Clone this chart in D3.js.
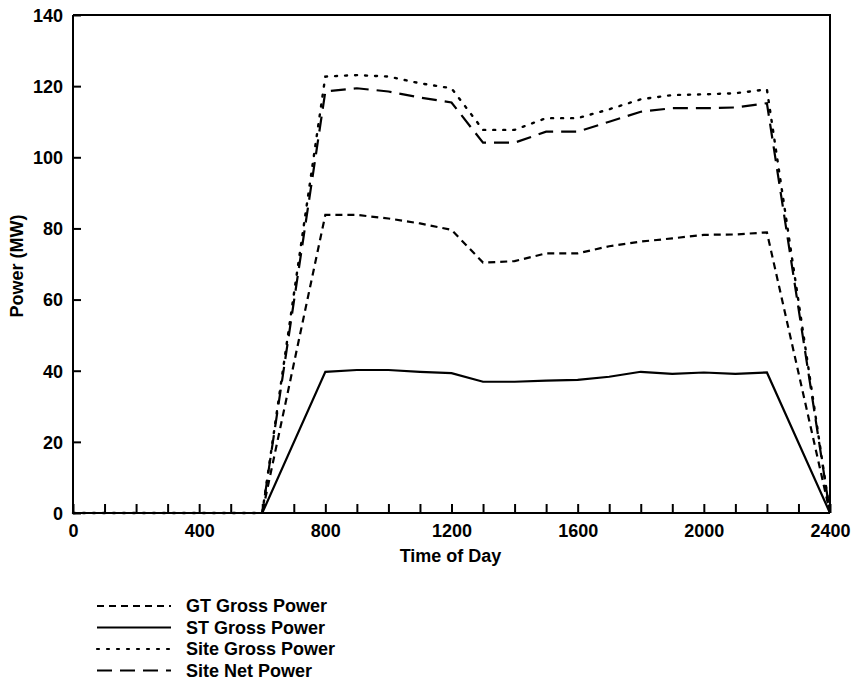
<!DOCTYPE html>
<html>
<head>
<meta charset="utf-8">
<script src="https://cdn.jsdelivr.net/npm/d3@7"></script>
<style>
  body { margin: 0; background: #fff; }
  text { font-family: "Liberation Sans", Arial, sans-serif; font-weight: bold; fill: #000; }
</style>
</head>
<body>
<div id="chart"></div>
<script>
// Time of day (hours x 100)
const times = [0, 100, 200, 300, 400, 500, 600, 800, 900, 1000, 1100, 1200, 1300, 1400, 1500, 1600, 1700, 1800, 1900, 2000, 2100, 2200, 2400];

// Series values (MW)
const gtGross   = [0, 0, 0, 0, 0, 0, 0, 83.8, 83.8, 82.8, 81.4, 79.6, 70.4, 70.8, 73.0, 73.0, 75.0, 76.3, 77.2, 78.2, 78.3, 78.9, 0];
const stGross   = [0, 0, 0, 0, 0, 0, 0, 39.7, 40.2, 40.2, 39.7, 39.3, 36.9, 36.9, 37.2, 37.4, 38.3, 39.7, 39.1, 39.5, 39.1, 39.5, 0];
const siteGross = [0, 0, 0, 0, 0, 0, 0, 122.7, 123.1, 122.7, 120.8, 119.4, 107.7, 107.7, 111.0, 111.0, 113.5, 116.3, 117.5, 117.7, 118.0, 119.1, 0];
const siteNet   = [0, 0, 0, 0, 0, 0, 0, 118.5, 119.4, 118.5, 116.8, 115.4, 104.1, 104.1, 107.2, 107.2, 110.0, 112.8, 113.8, 113.8, 114.0, 115.2, 0];

// Axis ticks
const xTicks = d3.range(0, 2401, 100);
const xLabels = [0, 400, 800, 1200, 1600, 2000, 2400];
const yTicks = [0, 20, 40, 60, 80, 100, 120, 140];

const seriesNames = ["GT Gross Power", "ST Gross Power", "Site Gross Power", "Site Net Power"];
const seriesData = [gtGross, stGross, siteGross, siteNet];
const dashes = ["7,5", null, "2,8", "15,8"];

const w = 854, h = 684;
const pl = 73, pr = 830, pt = 15, pb = 513;

const svg = d3.select("#chart").append("svg")
  .attr("width", w)
  .attr("height", h);

const xScale = d3.scaleLinear().domain([0, 2400]).range([pl, pr]);
const yScale = d3.scaleLinear().domain([0, 140]).range([pb, pt]);

// Axes with inward ticks
const xAxis = d3.axisBottom(xScale)
  .tickValues(xTicks)
  .tickSizeInner(-9)
  .tickSizeOuter(0)
  .tickFormat(d => xLabels.includes(d) ? d : "");

const yAxis = d3.axisLeft(yScale)
  .tickValues(yTicks)
  .tickSizeInner(-8)
  .tickSizeOuter(0);

const gx = svg.append("g")
  .attr("transform", "translate(0," + pb + ")")
  .call(xAxis);
gx.selectAll("text").attr("dy", "1.05em").attr("y", 5).style("font-size", "18px");

const gy = svg.append("g")
  .attr("transform", "translate(" + pl + ",0)")
  .call(yAxis);
gy.selectAll("text").attr("x", -10).attr("dy", "0.35em").style("font-size", "18px");

svg.selectAll(".domain, .tick line").attr("stroke", "#000").attr("stroke-width", 2);
gx.select(".domain").attr("d", "M" + pl + ",0H" + pr);
gy.select(".domain").attr("d", "M0," + pb + "V" + pt);

// Top and right frame
svg.append("path")
  .attr("d", "M" + pl + "," + pt + "H" + pr + "V" + pb)
  .attr("fill", "none")
  .attr("stroke", "#000")
  .attr("stroke-width", 2);

// Axis titles
svg.append("text")
  .attr("x", (pl + pr) / 2 - 1)
  .attr("y", 562)
  .attr("text-anchor", "middle")
  .style("font-size", "18px")
  .text("Time of Day");

svg.append("text")
  .attr("transform", "translate(23," + ((pt + pb) / 2 + 2) + ") rotate(-90)")
  .attr("text-anchor", "middle")
  .style("font-size", "18px")
  .text("Power (MW)");

// Lines
const line = d3.line()
  .x((d, i) => xScale(times[i]))
  .y(d => yScale(d));

seriesData.forEach((s, k) => {
  svg.append("path")
    .datum(s)
    .attr("d", line)
    .attr("fill", "none")
    .attr("stroke", "#000")
    .attr("stroke-width", k === 2 ? 2.4 : 2.2)
    .attr("stroke-linecap", k === 2 ? "round" : "butt")
    .attr("stroke-dasharray", dashes[k]);
});

// Legend
const legend = svg.append("g").attr("transform", "translate(97,606)");
seriesNames.forEach((name, k) => {
  const row = legend.append("g").attr("transform", "translate(0," + (k * 21.5) + ")");
  row.append("line")
    .attr("x1", 0).attr("x2", 74)
    .attr("y1", 0).attr("y2", 0)
    .attr("stroke", "#000")
    .attr("stroke-width", 2.2)
    .attr("stroke-linecap", k === 2 ? "round" : "butt")
    .attr("stroke-dasharray", dashes[k]);
  row.append("text")
    .attr("x", 89)
    .attr("y", 0)
    .attr("dy", "0.35em")
    .style("font-size", "18px")
    .text(name);
});
</script>
</body>
</html>
